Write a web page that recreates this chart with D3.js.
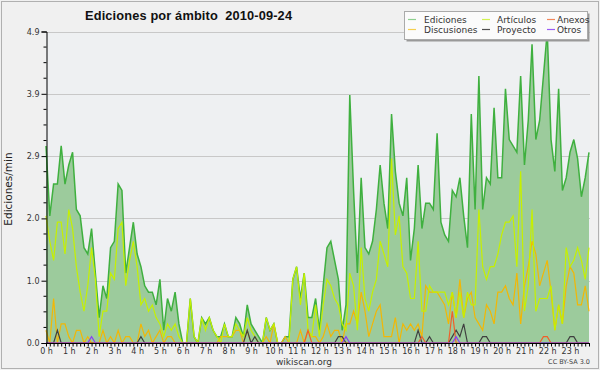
<!DOCTYPE html>
<html>
<head>
<meta charset="utf-8">
<script src="https://cdn.jsdelivr.net/npm/d3@7"></script>
<style>
  body { margin: 0; background: #f0f0f0; }
  svg { display: block; font-family: "DejaVu Sans", sans-serif; }
</style>
</head>
<body>
<svg id="chart" width="600" height="370"></svg>
<script>
// 10-minute slots, 144 per day, edits per minute
var ediciones = [
  3.1,2.0,2.5,2.5,3.1,2.5,2.8,3.0,2.1,2.0, 1.5,1.4,1.8,1.1,0.4,0.9,0.7,1.5,1.6,2.5,
  2.4,1.1,1.5,1.9,1.4,1.2,0.9,0.8,0.8,0.6, 1.0,0.2,0.7,0.5,0.8,0.3,0,0,0.7,0.1,
  0,0.4,0.3,0.4,0.2,0.1,0.1,0.3,0.1,0.1, 0.4,0.3,0.1,0.6,0.3,0.2,0.1,0,0.4,0.2,
  0.3,0,0,0.1,0.1,1.0,1.2,0.7,1.1,0.4, 0.4,0.7,0.2,0.9,1.5,1.6,1.3,1.0,0.2,0.6,
  3.9,2.4,1.1,2.6,1.5,1.4,1.6,2.1,2.8,2.2, 1.8,3.6,2.7,2.2,2.0,2.6,1.3,1.8,2.8,1.8,
  2.2,2.2,2.1,3.3,1.9,1.7,1.6,2.4,2.3,2.6, 2.0,1.5,3.6,2.1,4.2,2.1,2.6,2.5,3.7,2.6,
  2.6,4.0,3.2,3.1,3.0,4.2,2.8,3.5,4.7,3.2, 3.5,4.2,4.9,3.2,2.7,4.0,2.4,2.6,3.0,3.2,
  2.9,2.3,2.6,3.0
];
var articulos = [
  2.0,1.6,1.3,1.9,1.9,1.4,2.1,1.8,1.2,0.8, 0.5,0.9,1.5,1.0,0.1,0.5,0.5,1.1,1.0,1.8,
  1.9,0.9,1.3,1.6,1.2,0.6,0.7,0.5,0.6,0.4, 0.3,0.1,0.3,0.2,0.3,0.1,0,0,0.7,0.1,
  0,0.4,0.2,0.4,0.2,0.1,0,0.3,0.1,0.1, 0.3,0.2,0.1,0.4,0.2,0.1,0,0,0.4,0.2,
  0.3,0,0,0,0,1.0,1.2,0.6,1.1,0.2, 0.1,0.6,0.1,0.6,1.0,0.9,0.7,0.6,0.3,0.2,
  1.1,0.9,0.2,1.5,0.7,0.5,0.8,1.0,1.6,1.4, 1.2,2.9,1.7,2.0,1.2,1.1,0.7,0.7,1.6,0.5,
  0.5,0.9,0.8,0.8,0.8,0.8,0.6,0.8,0.4,0.8, 0.4,0.8,0.6,0.6,2.1,1.2,1.0,1.2,1.2,1.4,
  1.7,1.9,1.9,2.0,1.2,2.7,0.5,0.9,2.1,0.5, 0.7,0.7,0.7,0.9,0.2,0.6,0.3,1.5,1.2,1.3,
  1.5,1.3,1.0,1.5
];
var discusiones = [
  0.2,0,0.7,0,0.3,0.3,0.1,0,0.2,0.2, 0,0.1,0,0,0,0.2,0,0.1,0,0.2,
  0,0.1,0.1,0,0,0.3,0.1,0.2,0,0.1, 0.2,0,0.1,0.1,0,0,0,0,0,0,
  0,0,0,0,0,0,0.1,0.1,0.1,0.1, 0.2,0.2,0,0.2,0,0,0,0,0.1,0,
  0.3,0,0,0.1,0,0,0,0.2,0,0.2, 0.1,0.1,0,0.1,0.3,0.1,0.2,0.2,0,0.3,
  0.3,0.5,0.3,0.8,0.5,0.1,0.3,0.5,0.6,0.1, 0.1,0.1,0.4,0,0.3,0.2,0.3,0.2,0.3,0.1,
  0.9,0.8,0.8,0.8,0.7,0.6,0.3,0.8,0.4,1.0, 0.4,0.7,0.8,0.4,0.3,0.2,0.6,0.5,0.3,0.8,
  0.8,0.9,0.7,0.6,1.1,0.3,0.9,1.2,1.6,1.4, 0.9,1.1,1.3,0.8,0.2,0.6,0.3,0.9,1.2,1.1,
  0.6,0.6,0.9,0.5
];
// sparse series: [slot, value], every other slot is 0
var anexos = [[69,0.2],[99,0.1],[107,0.5],[131,0.1],[132,0.1]];
var proyecto = [[3,0.2],[25,0.1],[53,0.2],[55,0.1],[77,0.1],[78,0.1],[98,0.2],[101,0.1],
  [107,0.1],[108,0.2],[109,0.1],[110,0.3],[115,0.1],[116,0.1],[138,0.1],[139,0.1]];
var otros = [[12,0.1],[79,0.1],[108,0.1]];

var hours = d3.range(24).map(function(h) { return h + " h"; });
var yTicks = [0, 0.98, 1.96, 2.94, 3.92, 4.9];

function expand(pairs) {
  var a = ediciones.map(function() { return 0; });
  pairs.forEach(function(p) { a[p[0]] = p[1]; });
  return a;
}

var series = [
  {name: "Ediciones",   values: ediciones,        color: "#3fb03f", sw: "#8fd08f"},
  {name: "Discusiones", values: discusiones,      color: "#f2b705", sw: "#f5cf50"},
  {name: "Artículos",   values: articulos,        color: "#c6f000", sw: "#d2f250"},
  {name: "Proyecto",    values: expand(proyecto), color: "#404040", sw: "#505050"},
  {name: "Anexos",      values: expand(anexos),   color: "#f0602a", sw: "#f2875a"},
  {name: "Otros",       values: expand(otros),    color: "#8a3cf5", sw: "#9a5cf5"}
];

var svg = d3.select("#chart");
var x = d3.scaleLinear().domain([0, ediciones.length - 1]).range([46, 589]);
var y = d3.scaleLinear().domain([0, 4.9]).range([343, 31.5]);

// frame and plot background
svg.append("rect").attr("x", 1.5).attr("y", 1.5).attr("width", 597).attr("height", 367)
  .attr("fill", "#f0f0f0").attr("stroke", "#b0b0b0");
svg.append("rect").attr("x", 46).attr("y", y(4.9)).attr("width", 544).attr("height", y(0) - y(4.9))
  .attr("fill", "#eef0f2");

// grid
svg.append("g").selectAll("line").data(yTicks.slice(1)).enter().append("line")
  .attr("x1", 46).attr("x2", 590)
  .attr("y1", function(d) { return Math.round(y(d)) + 0.5; })
  .attr("y2", function(d) { return Math.round(y(d)) + 0.5; })
  .attr("stroke", "#c8c8c8");

// ediciones area + lines
var area = d3.area().x(function(d, i) { return x(i); }).y0(y(0)).y1(function(d) { return y(d); });
var line = d3.line().x(function(d, i) { return x(i); }).y(function(d) { return y(d); });

svg.append("path").datum(ediciones).attr("d", area).attr("fill", "#9ccb9c");
series.forEach(function(s, k) {
  svg.append("path").datum(s.values).attr("d", line)
    .attr("fill", "none").attr("stroke", s.color)
    .attr("stroke-width", k === 0 ? 1.5 : 1.2)
    .attr("stroke-linejoin", "miter");
});

// axes
var yAxis = d3.axisLeft(y).tickValues(yTicks).tickSize(5).tickPadding(2)
  .tickFormat(d3.format(".1f"));
var gy = svg.append("g").attr("transform", "translate(46.5,0)").call(yAxis);
var minor = d3.range(0, 4.9001, 0.245).filter(function(v, i) { return i % 4 !== 0; });
gy.selectAll(".minor").data(minor).enter().append("line").attr("class", "minor")
  .attr("x1", -3).attr("x2", 0)
  .attr("y1", function(d) { return y(d); }).attr("y2", function(d) { return y(d); })
  .attr("stroke", "#000");

var xAxis = d3.axisBottom(x).tickValues(d3.range(ediciones.length)).tickSize(3).tickPadding(2)
  .tickSizeOuter(0)
  .tickFormat(function(i) { return i % 6 === 0 ? hours[i / 6] : ""; });
var gx = svg.append("g").attr("transform", "translate(0,343.5)").call(xAxis);
gx.select(".domain").attr("d", "M46,0H590");

svg.selectAll(".tick text").attr("font-size", 8).attr("fill", "#333")
  .attr("font-family", "DejaVu Sans, sans-serif");
svg.selectAll(".domain, .tick line").attr("stroke", "#000");

// titles
svg.append("text").attr("x", 85).attr("y", 20)
  .attr("font-family", "Liberation Sans, Arial, sans-serif").attr("font-weight", "bold")
  .attr("font-size", 12.8).attr("fill", "#111").attr("xml:space", "preserve")
  .attr("textLength", 207).attr("lengthAdjust", "spacing")
  .text("Ediciones por ámbito  2010-09-24");
svg.append("text").attr("transform", "translate(12,189) rotate(-90)")
  .attr("text-anchor", "middle").attr("font-size", 10.5).attr("fill", "#222")
  .text("Ediciones/min");
svg.append("text").attr("x", 304).attr("y", 365).attr("text-anchor", "middle")
  .attr("font-size", 9).attr("fill", "#333").text("wikiscan.org");
svg.append("text").attr("x", 590).attr("y", 364).attr("text-anchor", "end")
  .attr("font-size", 6.5).attr("fill", "#444").text("CC BY-SA 3.0");

// legend (column major, 2 rows)
var lg = svg.append("g");
lg.append("rect").attr("x", 406.5).attr("y", 13.5).attr("width", 183).attr("height", 28).attr("fill", "#999");
lg.append("rect").attr("x", 404.5).attr("y", 11.5).attr("width", 183).attr("height", 28)
  .attr("fill", "#fbfbfb").attr("stroke", "#aaa");
var colX = [408, 482, 547];
var textX = [424, 497, 557];
series.forEach(function(s, k) {
  var col = Math.floor(k / 2), cy = k % 2 === 0 ? 19.5 : 29.5;
  lg.append("line").attr("x1", colX[col]).attr("x2", colX[col] + 8).attr("y1", cy).attr("y2", cy)
    .attr("stroke", s.sw).attr("stroke-width", 1.2);
  lg.append("text").attr("x", textX[col]).attr("y", cy + 3.5)
    .attr("font-size", 9).attr("fill", "#333").text(s.name);
});
</script>
</body>
</html>
